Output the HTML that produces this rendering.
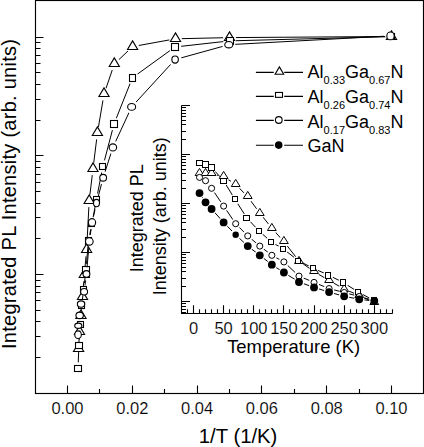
<!DOCTYPE html>
<html><head><meta charset="utf-8"><style>
html,body{margin:0;padding:0;background:#fff;}
svg{display:block;}
text{font-family:"Liberation Sans",sans-serif;}
.tl{stroke:#fff;stroke-width:0.15px;}
</style></head><body>
<svg width="424" height="447" viewBox="0 0 424 447">
<rect width="424" height="447" fill="#fff"/>
<rect x="35.5" y="0.5" width="388" height="393" fill="none" stroke="#000" stroke-width="1.15"/>
<path d="M67.50,393.5V385.50M99.50,393.5V389.00M132.50,393.5V385.50M164.50,393.5V389.00M197.50,393.5V385.50M229.50,393.5V389.00M261.50,393.5V385.50M294.50,393.5V389.00M326.50,393.5V385.50M359.50,393.5V389.00M391.50,393.5V385.50M35.5,37.50H43.5M35.5,120.50H40.5M35.5,99.50H40.5M35.5,84.50H40.5M35.5,72.50H40.5M35.5,63.50H40.5M35.5,55.50H40.5M35.5,48.50H40.5M35.5,42.50H40.5M35.5,155.50H43.5M35.5,238.50H40.5M35.5,217.50H40.5M35.5,203.50H40.5M35.5,191.50H40.5M35.5,182.50H40.5M35.5,174.50H40.5M35.5,167.50H40.5M35.5,161.50H40.5M35.5,274.50H43.5M35.5,357.50H40.5M35.5,336.50H40.5M35.5,321.50H40.5M35.5,310.50H40.5M35.5,300.50H40.5M35.5,292.50H40.5M35.5,286.50H40.5M35.5,280.50H40.5" stroke="#000" stroke-width="1.1" fill="none"/>
<mask id="m1" maskUnits="userSpaceOnUse" x="0" y="0" width="424" height="447"><rect width="424" height="447" fill="#fff"/>
<g fill="#000">
<circle cx="391.50" cy="36.50" r="6.4"/>
<circle cx="229.50" cy="37.60" r="6.4"/>
<circle cx="175.50" cy="38.80" r="6.4"/>
<circle cx="132.60" cy="46.60" r="6.4"/>
<circle cx="114.30" cy="64.00" r="6.4"/>
<circle cx="104.00" cy="94.20" r="6.4"/>
<circle cx="97.40" cy="133.20" r="6.4"/>
<circle cx="93.00" cy="168.80" r="6.4"/>
<circle cx="89.20" cy="200.80" r="6.4"/>
<circle cx="86.60" cy="250.00" r="6.4"/>
<circle cx="84.30" cy="275.00" r="6.4"/>
<circle cx="82.50" cy="296.80" r="6.4"/>
<circle cx="81.00" cy="316.00" r="6.4"/>
<circle cx="79.50" cy="331.80" r="6.4"/>
<circle cx="78.60" cy="348.80" r="6.4"/>
</g></mask>
<path d="M391.50,36.50L229.50,37.60L175.50,38.80L132.60,46.60L114.30,64.00L104.00,94.20L97.40,133.20L93.00,168.80L89.20,200.80L86.60,250.00L84.30,275.00L82.50,296.80L81.00,316.00L79.50,331.80L78.60,348.80" fill="none" stroke="#000" stroke-width="1.0" mask="url(#m1)"/>
<g fill="#fff" stroke="#000" stroke-width="1.1" stroke-linejoin="miter">
<path d="M391.50,30.90L396.60,39.50L386.40,39.50Z"/>
<path d="M229.50,31.90L234.60,40.50L224.40,40.50Z"/>
<path d="M175.50,32.90L180.60,41.50L170.40,41.50Z"/>
<path d="M132.60,40.90L137.70,49.50L127.50,49.50Z"/>
<path d="M114.30,57.90L119.40,66.50L109.20,66.50Z"/>
<path d="M104.00,87.90L109.10,96.50L98.90,96.50Z"/>
<path d="M97.40,126.90L102.50,135.50L92.30,135.50Z"/>
<path d="M93.00,162.90L98.10,171.50L87.90,171.50Z"/>
<path d="M89.20,194.90L94.30,203.50L84.10,203.50Z"/>
<path d="M86.60,243.90L91.70,252.50L81.50,252.50Z"/>
<path d="M84.30,268.90L89.40,277.50L79.20,277.50Z"/>
<path d="M82.50,290.90L87.60,299.50L77.40,299.50Z"/>
<path d="M81.00,309.90L86.10,318.50L75.90,318.50Z"/>
<path d="M79.50,325.90L84.60,334.50L74.40,334.50Z"/>
<path d="M78.60,342.90L83.70,351.50L73.50,351.50Z"/>
</g>
<mask id="m2" maskUnits="userSpaceOnUse" x="0" y="0" width="424" height="447"><rect width="424" height="447" fill="#fff"/>
<g fill="#000">
<circle cx="391.50" cy="36.60" r="6.3"/>
<circle cx="229.50" cy="40.90" r="6.3"/>
<circle cx="174.90" cy="47.00" r="6.3"/>
<circle cx="132.40" cy="77.80" r="6.3"/>
<circle cx="114.00" cy="124.00" r="6.3"/>
<circle cx="102.90" cy="166.40" r="6.3"/>
<circle cx="96.40" cy="199.50" r="6.3"/>
<circle cx="92.00" cy="223.40" r="6.3"/>
<circle cx="88.40" cy="240.80" r="6.3"/>
<circle cx="86.00" cy="270.00" r="6.3"/>
<circle cx="83.70" cy="289.00" r="6.3"/>
<circle cx="81.70" cy="305.50" r="6.3"/>
<circle cx="80.30" cy="324.50" r="6.3"/>
<circle cx="78.90" cy="345.60" r="6.3"/>
<circle cx="78.00" cy="368.50" r="6.3"/>
</g></mask>
<path d="M391.50,36.60L229.50,40.90L174.90,47.00L132.40,77.80L114.00,124.00L102.90,166.40L96.40,199.50L92.00,223.40L88.40,240.80L86.00,270.00L83.70,289.00L81.70,305.50L80.30,324.50L78.90,345.60L78.00,368.50" fill="none" stroke="#000" stroke-width="1.0" mask="url(#m2)"/>
<g fill="#fff" stroke="#000" stroke-width="1.1" stroke-linejoin="miter">
<rect x="388.50" y="33.50" width="6" height="6"/>
<rect x="226.50" y="37.50" width="7" height="7"/>
<rect x="171.50" y="43.50" width="7" height="7"/>
<rect x="129.50" y="74.50" width="6" height="7"/>
<rect x="110.50" y="120.50" width="7" height="7"/>
<rect x="99.50" y="163.50" width="6" height="6"/>
<rect x="93.50" y="196.50" width="6" height="6"/>
<rect x="88.50" y="220.50" width="6" height="6"/>
<rect x="85.50" y="237.50" width="6" height="7"/>
<rect x="82.50" y="266.50" width="7" height="7"/>
<rect x="80.50" y="286.50" width="6" height="6"/>
<rect x="78.50" y="302.50" width="6" height="6"/>
<rect x="77.50" y="321.50" width="6" height="6"/>
<rect x="75.50" y="342.50" width="7" height="6"/>
<rect x="74.50" y="365.50" width="7" height="6"/>
</g>
<mask id="m3" maskUnits="userSpaceOnUse" x="0" y="0" width="424" height="447"><rect width="424" height="447" fill="#fff"/>
<g fill="#000">
<circle cx="390.50" cy="35.90" r="6.6"/>
<circle cx="228.80" cy="44.70" r="6.6"/>
<circle cx="175.10" cy="59.55" r="6.6"/>
<circle cx="131.65" cy="106.90" r="6.6"/>
<circle cx="112.90" cy="147.40" r="6.6"/>
<circle cx="103.15" cy="177.75" r="6.6"/>
<circle cx="96.50" cy="203.05" r="6.6"/>
<circle cx="92.05" cy="222.50" r="6.6"/>
<circle cx="89.35" cy="241.45" r="6.6"/>
<circle cx="86.45" cy="273.90" r="6.6"/>
<circle cx="84.10" cy="291.80" r="6.6"/>
<circle cx="81.05" cy="304.05" r="6.6"/>
<circle cx="79.65" cy="315.40" r="6.6"/>
<circle cx="78.30" cy="325.75" r="6.6"/>
<circle cx="78.05" cy="334.65" r="6.6"/>
</g></mask>
<path d="M390.50,35.90L228.80,44.70L175.10,59.55L131.65,106.90L112.90,147.40L103.15,177.75L96.50,203.05L92.05,222.50L89.35,241.45L86.45,273.90L84.10,291.80L81.05,304.05L79.65,315.40L78.30,325.75L78.05,334.65" fill="none" stroke="#000" stroke-width="1.0" mask="url(#m3)"/>
<g fill="#fff" stroke="#000" stroke-width="1.1" stroke-linejoin="miter">
<ellipse cx="390.50" cy="35.90" rx="3.70" ry="3.90"/>
<ellipse cx="228.80" cy="44.70" rx="4.05" ry="3.20"/>
<ellipse cx="175.10" cy="59.55" rx="3.25" ry="3.60"/>
<ellipse cx="131.65" cy="106.90" rx="4.00" ry="3.35"/>
<ellipse cx="112.90" cy="147.40" rx="3.75" ry="3.55"/>
<ellipse cx="103.15" cy="177.75" rx="3.40" ry="3.40"/>
<ellipse cx="96.50" cy="203.05" rx="3.00" ry="3.70"/>
<ellipse cx="92.05" cy="222.50" rx="3.60" ry="3.85"/>
<ellipse cx="89.35" cy="241.45" rx="3.80" ry="3.70"/>
<ellipse cx="86.45" cy="273.90" rx="3.40" ry="3.30"/>
<ellipse cx="84.10" cy="291.80" rx="3.45" ry="3.25"/>
<ellipse cx="81.05" cy="304.05" rx="3.70" ry="3.20"/>
<ellipse cx="79.65" cy="315.40" rx="3.70" ry="3.25"/>
<ellipse cx="78.30" cy="325.75" rx="3.55" ry="2.60"/>
<ellipse cx="78.05" cy="334.65" rx="3.30" ry="3.80"/>
</g>
<path d="M181.5,105.5V313.5H392.5M181.5,105.50H190M181.5,139.50H186M181.5,131.50H186M181.5,124.50H186M181.5,120.50H186M181.5,116.50H186M181.5,113.50H186M181.5,110.50H186M181.5,107.50H186M181.5,154.50H190M181.5,188.50H186M181.5,180.50H186M181.5,173.50H186M181.5,169.50H186M181.5,165.50H186M181.5,162.50H186M181.5,159.50H186M181.5,156.50H186M181.5,203.50H190M181.5,237.50H186M181.5,229.50H186M181.5,222.50H186M181.5,218.50H186M181.5,214.50H186M181.5,211.50H186M181.5,208.50H186M181.5,205.50H186M181.5,252.50H190M181.5,286.50H186M181.5,278.50H186M181.5,271.50H186M181.5,267.50H186M181.5,263.50H186M181.5,260.50H186M181.5,257.50H186M181.5,254.50H186M181.5,301.50H190M181.5,312.50H186M181.5,309.50H186M181.5,306.50H186M181.5,303.50H186M187.50,313.5V309.20M193.50,313.5V305.30M199.50,313.5V309.20M205.50,313.5V309.20M211.50,313.5V309.20M217.50,313.5V309.20M223.50,313.5V305.30M229.50,313.5V309.20M235.50,313.5V309.20M241.50,313.5V309.20M247.50,313.5V309.20M253.50,313.5V305.30M259.50,313.5V309.20M265.50,313.5V309.20M271.50,313.5V309.20M277.50,313.5V309.20M283.50,313.5V305.30M289.50,313.5V309.20M295.50,313.5V309.20M301.50,313.5V309.20M308.50,313.5V309.20M314.50,313.5V305.30M320.50,313.5V309.20M326.50,313.5V309.20M332.50,313.5V309.20M338.50,313.5V309.20M344.50,313.5V305.30M350.50,313.5V309.20M356.50,313.5V309.20M362.50,313.5V309.20M368.50,313.5V309.20M374.50,313.5V305.30M380.50,313.5V309.20M386.50,313.5V309.20M392.50,313.5V309.20" stroke="#000" stroke-width="1.1" fill="none"/>
<mask id="i1" maskUnits="userSpaceOnUse" x="0" y="0" width="424" height="447"><rect width="424" height="447" fill="#fff"/>
<g fill="#000">
<circle cx="199.53" cy="173.00" r="5.6"/>
<circle cx="205.55" cy="173.10" r="5.6"/>
<circle cx="211.58" cy="173.80" r="5.6"/>
<circle cx="223.63" cy="176.70" r="5.6"/>
<circle cx="235.69" cy="184.30" r="5.6"/>
<circle cx="247.74" cy="196.80" r="5.6"/>
<circle cx="259.80" cy="213.10" r="5.6"/>
<circle cx="271.85" cy="228.20" r="5.6"/>
<circle cx="283.90" cy="241.70" r="5.6"/>
<circle cx="298.97" cy="260.90" r="5.6"/>
<circle cx="314.04" cy="271.60" r="5.6"/>
<circle cx="329.11" cy="280.50" r="5.6"/>
<circle cx="344.18" cy="289.03" r="5.6"/>
<circle cx="359.24" cy="295.56" r="5.6"/>
<circle cx="374.31" cy="302.59" r="5.6"/>
</g></mask>
<path d="M199.53,173.00L205.55,173.10L211.58,173.80L223.63,176.70L235.69,184.30L247.74,196.80L259.80,213.10L271.85,228.20L283.90,241.70L298.97,260.90L314.04,271.60L329.11,280.50L344.18,289.03L359.24,295.56L374.31,302.59" fill="none" stroke="#000" stroke-width="1.0" mask="url(#i1)"/>
<g fill="#fff" stroke="#000" stroke-width="1.0" stroke-linejoin="miter">
<path d="M199.53,168.40L203.93,175.50L195.13,175.50Z"/>
<path d="M205.55,168.40L209.95,175.50L201.15,175.50Z"/>
<path d="M211.58,168.40L215.98,175.50L207.18,175.50Z"/>
<path d="M223.63,171.40L228.03,178.50L219.23,178.50Z"/>
<path d="M235.69,179.40L240.09,186.50L231.29,186.50Z"/>
<path d="M247.74,191.40L252.14,198.50L243.34,198.50Z"/>
<path d="M259.80,208.40L264.20,215.50L255.40,215.50Z"/>
<path d="M271.85,223.40L276.25,230.50L267.45,230.50Z"/>
<path d="M283.90,236.40L288.30,243.50L279.50,243.50Z"/>
<path d="M298.97,256.40L303.37,263.50L294.57,263.50Z"/>
<path d="M314.04,266.40L318.44,273.50L309.64,273.50Z"/>
<path d="M329.11,275.40L333.51,282.50L324.71,282.50Z"/>
<path d="M344.18,284.40L348.57,291.50L339.78,291.50Z"/>
<path d="M359.24,290.40L363.64,297.50L354.84,297.50Z"/>
<path d="M374.31,297.40L378.71,304.50L369.91,304.50Z"/>
</g>
<mask id="i2" maskUnits="userSpaceOnUse" x="0" y="0" width="424" height="447"><rect width="424" height="447" fill="#fff"/>
<g fill="#000">
<circle cx="199.40" cy="163.00" r="5.2"/>
<circle cx="205.50" cy="164.70" r="5.2"/>
<circle cx="211.80" cy="167.70" r="5.2"/>
<circle cx="223.40" cy="180.50" r="5.2"/>
<circle cx="235.00" cy="199.40" r="5.2"/>
<circle cx="246.94" cy="218.10" r="5.2"/>
<circle cx="259.00" cy="230.90" r="5.2"/>
<circle cx="271.05" cy="241.80" r="5.2"/>
<circle cx="283.10" cy="248.80" r="5.2"/>
<circle cx="298.17" cy="260.50" r="5.2"/>
<circle cx="313.24" cy="268.30" r="5.2"/>
<circle cx="328.31" cy="275.00" r="5.2"/>
<circle cx="343.38" cy="282.60" r="5.2"/>
<circle cx="358.44" cy="292.10" r="5.2"/>
<circle cx="373.51" cy="300.30" r="5.2"/>
</g></mask>
<path d="M199.40,163.00L205.50,164.70L211.80,167.70L223.40,180.50L235.00,199.40L246.94,218.10L259.00,230.90L271.05,241.80L283.10,248.80L298.17,260.50L313.24,268.30L328.31,275.00L343.38,282.60L358.44,292.10L373.51,300.30" fill="none" stroke="#000" stroke-width="1.0" mask="url(#i2)"/>
<g fill="#fff" stroke="#000" stroke-width="1.0" stroke-linejoin="miter">
<rect x="196.50" y="160.50" width="6" height="5"/>
<rect x="202.50" y="161.50" width="6" height="6"/>
<rect x="208.50" y="164.50" width="6" height="6"/>
<rect x="220.50" y="178.50" width="6" height="5"/>
<rect x="232.50" y="196.50" width="5" height="5"/>
<rect x="243.50" y="215.50" width="6" height="5"/>
<rect x="256.50" y="228.50" width="5" height="5"/>
<rect x="268.50" y="239.50" width="5" height="5"/>
<rect x="280.50" y="246.50" width="5" height="5"/>
<rect x="295.50" y="258.50" width="5" height="5"/>
<rect x="310.50" y="265.50" width="5" height="5"/>
<rect x="325.50" y="272.50" width="5" height="6"/>
<rect x="340.50" y="279.50" width="5" height="6"/>
<rect x="355.50" y="289.50" width="5" height="5"/>
<rect x="371.50" y="297.50" width="5" height="5"/>
</g>
<mask id="i3" maskUnits="userSpaceOnUse" x="0" y="0" width="424" height="447"><rect width="424" height="447" fill="#fff"/>
<g fill="#000">
<circle cx="199.53" cy="177.40" r="5.3"/>
<circle cx="205.55" cy="180.70" r="5.3"/>
<circle cx="211.58" cy="188.30" r="5.3"/>
<circle cx="223.63" cy="206.10" r="5.3"/>
<circle cx="235.69" cy="223.70" r="5.3"/>
<circle cx="247.74" cy="235.90" r="5.3"/>
<circle cx="259.80" cy="246.10" r="5.3"/>
<circle cx="271.85" cy="255.30" r="5.3"/>
<circle cx="283.90" cy="261.90" r="5.3"/>
<circle cx="298.97" cy="276.10" r="5.3"/>
<circle cx="314.04" cy="282.40" r="5.3"/>
<circle cx="329.11" cy="288.60" r="5.3"/>
<circle cx="344.18" cy="292.50" r="5.3"/>
<circle cx="359.24" cy="296.50" r="5.3"/>
<circle cx="374.31" cy="300.50" r="5.3"/>
</g></mask>
<path d="M199.53,177.40L205.55,180.70L211.58,188.30L223.63,206.10L235.69,223.70L247.74,235.90L259.80,246.10L271.85,255.30L283.90,261.90L298.97,276.10L314.04,282.40L329.11,288.60L344.18,292.50L359.24,296.50L374.31,300.50" fill="none" stroke="#000" stroke-width="1.0" mask="url(#i3)"/>
<g fill="#fff" stroke="#000" stroke-width="1.0" stroke-linejoin="miter">
<circle cx="199.53" cy="177.40" r="3.05"/>
<circle cx="205.55" cy="180.70" r="3.05"/>
<circle cx="211.58" cy="188.30" r="3.05"/>
<circle cx="223.63" cy="206.10" r="3.05"/>
<circle cx="235.69" cy="223.70" r="3.05"/>
<circle cx="247.74" cy="235.90" r="3.05"/>
<circle cx="259.80" cy="246.10" r="3.05"/>
<circle cx="271.85" cy="255.30" r="3.05"/>
<circle cx="283.90" cy="261.90" r="3.05"/>
<circle cx="298.97" cy="276.10" r="3.05"/>
<circle cx="314.04" cy="282.40" r="3.05"/>
<circle cx="329.11" cy="288.60" r="3.05"/>
<circle cx="344.18" cy="292.50" r="3.05"/>
<circle cx="359.24" cy="296.50" r="3.05"/>
<circle cx="374.31" cy="300.50" r="3.05"/>
</g>
<mask id="i4" maskUnits="userSpaceOnUse" x="0" y="0" width="424" height="447"><rect width="424" height="447" fill="#fff"/>
<g fill="#000">
<circle cx="199.53" cy="193.10" r="5.3"/>
<circle cx="205.55" cy="202.30" r="5.3"/>
<circle cx="211.58" cy="209.00" r="5.3"/>
<circle cx="223.63" cy="222.40" r="5.3"/>
<circle cx="235.69" cy="234.80" r="5.3"/>
<circle cx="247.74" cy="246.10" r="5.3"/>
<circle cx="259.80" cy="255.30" r="5.3"/>
<circle cx="271.85" cy="264.70" r="5.3"/>
<circle cx="283.90" cy="272.50" r="5.3"/>
<circle cx="298.97" cy="282.00" r="5.3"/>
<circle cx="314.04" cy="287.40" r="5.3"/>
<circle cx="329.11" cy="292.10" r="5.3"/>
<circle cx="344.18" cy="296.30" r="5.3"/>
<circle cx="359.24" cy="299.30" r="5.3"/>
<circle cx="374.31" cy="301.00" r="5.3"/>
</g></mask>
<path d="M199.53,193.10L205.55,202.30L211.58,209.00L223.63,222.40L235.69,234.80L247.74,246.10L259.80,255.30L271.85,264.70L283.90,272.50L298.97,282.00L314.04,287.40L329.11,292.10L344.18,296.30L359.24,299.30L374.31,301.00" fill="none" stroke="#000" stroke-width="1.0" mask="url(#i4)"/>
<g fill="#000" stroke="none">
<circle cx="199.53" cy="193.10" r="3.90"/>
<circle cx="205.55" cy="202.30" r="3.90"/>
<circle cx="211.58" cy="209.00" r="3.90"/>
<circle cx="223.63" cy="222.40" r="3.90"/>
<circle cx="235.69" cy="234.80" r="3.20"/>
<circle cx="247.74" cy="246.10" r="3.90"/>
<circle cx="259.80" cy="255.30" r="3.90"/>
<circle cx="271.85" cy="264.70" r="3.90"/>
<circle cx="283.90" cy="272.50" r="3.90"/>
<circle cx="298.97" cy="282.00" r="3.90"/>
<circle cx="314.04" cy="287.40" r="3.90"/>
<circle cx="329.11" cy="292.10" r="3.90"/>
<circle cx="344.18" cy="296.30" r="3.90"/>
<circle cx="359.24" cy="299.30" r="3.90"/>
<circle cx="374.31" cy="301.00" r="3.90"/>
</g>
<path d="M255.9,72.4H273.8M284.2,72.4H303M255.9,96.4H273.8M284.2,96.4H303M255.9,120.4H273.8M284.2,120.4H303M255.9,145.3H273.8M284.2,145.3H303" stroke="#000" stroke-width="1.1" fill="none"/>
<g fill="#fff" stroke="#000" stroke-width="1.1" stroke-linejoin="miter">
<path d="M279.4,66.9L283.7,74.2L275.1,74.2Z"/>
<rect x="275.5" y="92.45" width="7" height="4.9"/>
<circle cx="278.8" cy="120" r="3.35"/>
</g>
<circle cx="278.7" cy="145.1" r="3.8" fill="#000"/>
<g font-family="Liberation Sans, sans-serif" fill="#000"><text x="67.50" y="413.8" font-size="16.5" class="tl" text-anchor="middle">0.00</text>
<text x="132.30" y="413.8" font-size="16.5" class="tl" text-anchor="middle">0.02</text>
<text x="197.10" y="413.8" font-size="16.5" class="tl" text-anchor="middle">0.04</text>
<text x="261.90" y="413.8" font-size="16.5" class="tl" text-anchor="middle">0.06</text>
<text x="326.70" y="413.8" font-size="16.5" class="tl" text-anchor="middle">0.08</text>
<text x="391.50" y="413.8" font-size="16.5" class="tl" text-anchor="middle">0.10</text>
<text x="238.1" y="442.7" font-size="20.3" text-anchor="middle">1/T (1/K)</text>
<text transform="translate(15.6,194) rotate(-90)" font-size="20" text-anchor="middle" textLength="310" lengthAdjust="spacing">Integrated PL Intensity (arb. units)</text>
<text x="193.50" y="333.8" font-size="16.5" class="tl" text-anchor="middle">0</text>
<text x="223.63" y="333.8" font-size="16.5" class="tl" text-anchor="middle">50</text>
<text x="253.77" y="333.8" font-size="16.5" class="tl" text-anchor="middle">100</text>
<text x="283.90" y="333.8" font-size="16.5" class="tl" text-anchor="middle">150</text>
<text x="314.04" y="333.8" font-size="16.5" class="tl" text-anchor="middle">200</text>
<text x="344.18" y="333.8" font-size="16.5" class="tl" text-anchor="middle">250</text>
<text x="374.31" y="333.8" font-size="16.5" class="tl" text-anchor="middle">300</text>
<text x="293.6" y="352.9" font-size="18.4" text-anchor="middle">Temperature (K)</text>
<text transform="translate(142.7,218.3) rotate(-90)" font-size="18" text-anchor="middle">Integrated PL</text>
<text transform="translate(166.3,216.2) rotate(-90)" font-size="18" text-anchor="middle">Intensity (arb. units)</text>
<text x="307.6" y="77.9" font-size="18">Al<tspan font-size="11" dy="5.8">0.33</tspan><tspan dy="-5.8">Ga</tspan><tspan font-size="11" dy="5.8">0.67</tspan><tspan dy="-5.8">N</tspan></text>
<text x="307.6" y="102.8" font-size="18">Al<tspan font-size="11" dy="5.8">0.26</tspan><tspan dy="-5.8">Ga</tspan><tspan font-size="11" dy="5.8">0.74</tspan><tspan dy="-5.8">N</tspan></text>
<text x="307.6" y="128.0" font-size="18">Al<tspan font-size="11" dy="5.8">0.17</tspan><tspan dy="-5.8">Ga</tspan><tspan font-size="11" dy="5.8">0.83</tspan><tspan dy="-5.8">N</tspan></text>
<text x="307.6" y="151.5" font-size="18">GaN</text></g>
</svg>
</body></html>
